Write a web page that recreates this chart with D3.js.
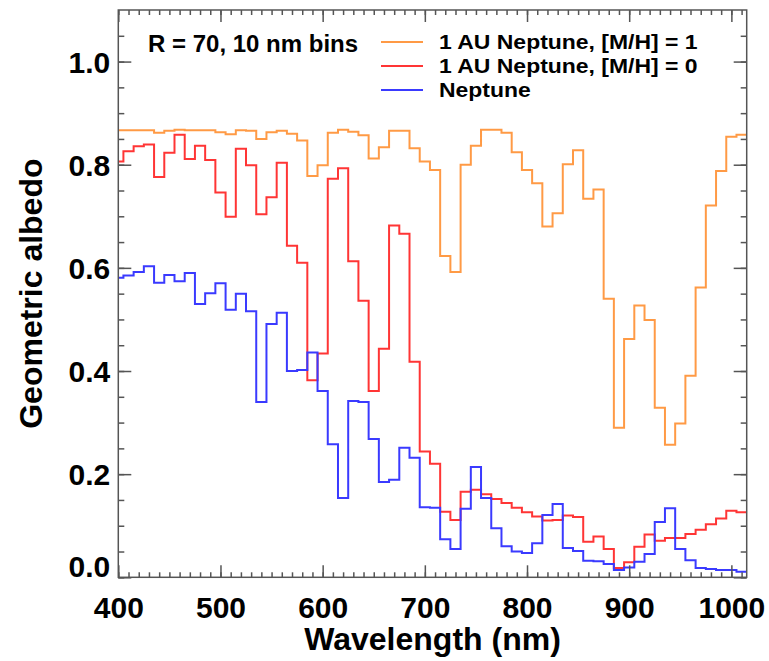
<!DOCTYPE html>
<html><head><meta charset="utf-8">
<script src="https://cdn.jsdelivr.net/npm/d3@7"></script>
<style>body{margin:0;background:#fff}text{font-family:"Liberation Sans",Arial,Helvetica,sans-serif;font-weight:bold;fill:#000}</style>
</head><body><svg id="c" width="769" height="661"></svg>
<script>
const wavelengths = [400,410,420,430,440,450,460,470,480,490,500,510,520,530,540,550,560,570,580,590,
  600,610,620,630,640,650,660,670,680,690,700,710,720,730,740,750,760,770,780,790,
  800,810,820,830,840,850,860,870,880,890,900,910,920,930,940,950,960,970,980,990,1000,1010];
const neptune1AU_MH1 = [.867,.867,.867,.867,.862,.866,.868,.867,.867,.867,.863,.859,.867,.866,.850,.863,.866,.860,.847,.778,
  .799,.862,.868,.864,.857,.812,.834,.866,.866,.832,.806,.790,.623,.592,.800,.837,.868,.868,.862,.824,
  .790,.764,.680,.706,.801,.828,.734,.752,.540,.290,.462,.527,.499,.329,.257,.298,.391,.562,.721,.788,.854,.858];
const neptune1AU_MH0 = [.806,.826,.836,.839,.776,.823,.858,.811,.837,.809,.746,.699,.831,.799,.704,.737,.804,.643,.610,.382,
  .434,.773,.793,.613,.536,.361,.443,.682,.666,.418,.244,.220,.127,.111,.166,.170,.161,.152,.144,.135,
  .126,.118,.110,.111,.120,.117,.069,.079,.055,.018,.029,.059,.083,.071,.076,.076,.084,.092,.103,.114,.129,.126];
const neptune = [.581,.585,.592,.603,.571,.586,.574,.590,.530,.551,.570,.519,.550,.516,.340,.491,.513,.400,.402,.436,
  .361,.258,.154,.342,.340,.268,.185,.189,.251,.232,.136,.135,.074,.055,.133,.214,.154,.095,.060,.050,
  .047,.066,.121,.142,.057,.051,.032,.031,.026,.014,.019,.030,.045,.107,.134,.055,.033,.018,.016,.014,.014,.011];
const seriesNames = ["1 AU Neptune, [M/H] = 1","1 AU Neptune, [M/H] = 0","Neptune"];
const seriesColors = ["#ff9a45","#ff3535","#3a3aff"];
const xTicks = [400,500,600,700,800,900,1000];
const xTickLabels = ["400","500","600","700","800","900","1000"];
const yTicks = [0,0.2,0.4,0.6,0.8,1.0];
const yTickLabels = ["0.0","0.2","0.4","0.6","0.8","1.0"];
const annotation = "R = 70, 10 nm bins";

const svg = d3.select("#c");
const L = 118.3, R = 746.7, T = 10, B = 577.3;
const x = d3.scaleLinear().domain([400, 1015]).range([L, R]);
const y = d3.scaleLinear().domain([0, 1.1]).range([B, T]);

svg.append("defs").append("clipPath").attr("id","clip")
  .append("rect").attr("x",L).attr("y",T).attr("width",R-L).attr("height",B-T);

const allSeries = [neptune1AU_MH1, neptune1AU_MH0, neptune];
const line = d3.line().x(d=>x(d[0])).y(d=>y(d[1])).curve(d3.curveStep);
allSeries.forEach((vals,i)=>{
  const pts = wavelengths.map((w,j)=>[w, vals[j]]);
  pts.push([x.domain()[1], vals[vals.length-1]]);
  svg.append("path").attr("clip-path","url(#clip)").datum(pts)
    .attr("d", line).attr("fill","none").attr("stroke", seriesColors[i])
    .attr("stroke-width",2).attr("stroke-linejoin","miter");
});

const axColor = "#555";
function style(g){
  g.select(".domain").remove();
  g.selectAll("line").attr("stroke",axColor).attr("stroke-width",1.5);
}
const xMinor = d3.range(400, 1016, 10);
const yMinor = d3.range(0, 22).map(i=>i*0.05);
// bottom
svg.append("g").attr("transform",`translate(0,${B})`)
  .call(d3.axisBottom(x).tickValues(xMinor).tickSize(-5).tickFormat("")).call(style);
const gx = svg.append("g").attr("transform",`translate(0,${B})`)
  .call(d3.axisBottom(x).tickValues(xTicks).tickSize(-12).tickFormat((d,i)=>xTickLabels[i])).call(style);
gx.selectAll("text").attr("y",41).attr("dy",0).style("font-size","30px").attr("fill","#000");
// top
svg.append("g").attr("transform",`translate(0,${T})`)
  .call(d3.axisTop(x).tickValues(xMinor).tickSize(-5).tickFormat("")).call(style);
svg.append("g").attr("transform",`translate(0,${T})`)
  .call(d3.axisTop(x).tickValues(xTicks).tickSize(-12).tickFormat("")).call(style);
// left
svg.append("g").attr("transform",`translate(${L},0)`)
  .call(d3.axisLeft(y).tickValues(yMinor).tickSize(-6).tickFormat("")).call(style);
const gy = svg.append("g").attr("transform",`translate(${L},0)`)
  .call(d3.axisLeft(y).tickValues(yTicks).tickSize(-13).tickFormat((d,i)=>yTickLabels[i])).call(style);
gy.selectAll("text").attr("x",-8).attr("dy","0.36em").style("font-size","30px").attr("fill","#000");
gy.selectAll("text").filter((d,i)=>i===0).attr("dy","0").attr("y",-1);
// right
svg.append("g").attr("transform",`translate(${R},0)`)
  .call(d3.axisRight(y).tickValues(yMinor).tickSize(-6).tickFormat("")).call(style);
svg.append("g").attr("transform",`translate(${R},0)`)
  .call(d3.axisRight(y).tickValues(yTicks).tickSize(-13).tickFormat("")).call(style);

svg.append("rect").attr("x",L).attr("y",T).attr("width",R-L).attr("height",B-T)
  .attr("fill","none").attr("stroke",axColor).attr("stroke-width",1.5);

// titles
svg.append("text").attr("x",(L+R)/2).attr("y",650).attr("text-anchor","middle")
  .style("font-size","32px").text("Wavelength (nm)");
svg.append("text").attr("transform",`translate(42,${(T+B)/2}) rotate(-90)`).attr("text-anchor","middle")
  .style("font-size","32px").text("Geometric albedo");

// annotation + legend
svg.append("text").attr("x",148).attr("y",51.5).style("font-size","24px").text(annotation);
const legY = [48.5, 72.5, 96.5];
seriesNames.forEach((n,i)=>{
  svg.append("line").attr("x1",381).attr("x2",423).attr("y1",legY[i]-6.5).attr("y2",legY[i]-6.5)
    .attr("stroke",seriesColors[i]).attr("stroke-width",2);
  svg.append("text").attr("transform",`translate(439,${legY[i]}) scale(1.12,1)`)
    .style("font-size","20.5px").text(n);
});
</script></body></html>
